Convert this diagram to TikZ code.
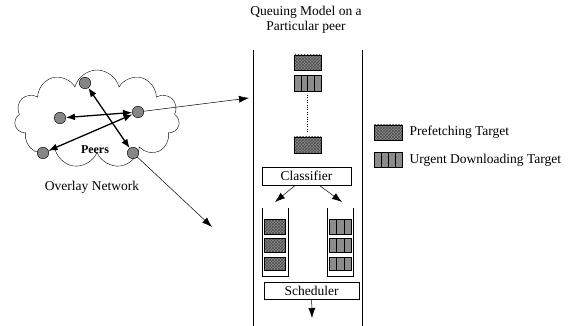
\documentclass[tikz,border=0pt]{standalone}
\usepackage{fontspec}
\setmainfont{Liberation Serif}
\usetikzlibrary{shapes.symbols,patterns,arrows.meta}

\tikzset{
  hatchbox/.style={draw,preaction={fill=gray!90},pattern=crosshatch,pattern color=black!70},
  stripebox/.style={draw,fill=gray!90},
  tagbox/.style={draw,inner sep=0pt,font=\fontsize{13.5}{15}\selectfont},
  peer/.style={circle,draw,fill=gray!95,minimum size=11.5pt,inner sep=0pt},
  link/.style={{Latex[length=9pt,width=7pt]}-{Latex[length=9pt,width=7pt]},line width=1.3pt},
  feed/.style={-{Latex[length=10pt,width=7pt]},line width=.5pt},
}

% stripe box: x1 y1 x2 y2 {inner x list}
\newcommand{\stripebx}[5]{%
  \draw[stripebox] (#1,#2) rectangle (#3,#4);
  \foreach \sx in {#5} \draw (\sx,#2) -- (\sx,#4);
}

\begin{document}
\begin{tikzpicture}[x=1pt,y=-1pt,font=\fontsize{13.5}{15.5}\selectfont]
  \useasboundingbox (0,0) rectangle (568,326);

  % overlay network
  \node[cloud,draw,cloud puffs=11,aspect=1.7,minimum width=165pt,minimum height=98pt] (cloud) at (97,119) {};

  \begin{scope}[every node/.style={peer}]
    \node (1) at (85,83)  {};
    \node (2) at (60,118) {};
    \node (3) at (138,112) {};
    \node (4) at (43,153) {};
    \node (5) at (133,153) {};
  \end{scope}

  \node[font=\fontsize{12}{14}\selectfont\bfseries] (peers) at (95,150) {Peers};
  \node (overlay) at (92,187) {Overlay Network};

  \path (1) edge[link] (5);
  \path (2) edge[link] (3);
  \path (4) edge[link] (3);

  \coordinate (q) at (249,98);
  \coordinate (r) at (212,227);
  \path (3) edge[feed] (q);
  \path (5) edge[feed] (r);

  % queuing model
  \node[align=center] (title) at (306,20) {Queuing Model on a\\Particular peer};
  \draw (253,50) -- (253,326);
  \draw (362,50) -- (362,326);

  \draw[hatchbox] (294,55) rectangle (321,70);
  \stripebx{294}{75}{321}{91}{300.75,307.5,314.25}
  \draw[dotted] (307,95) -- (307,132);
  \draw[hatchbox] (294,137) rectangle (321,153);

  \node[tagbox,minimum width=89pt,minimum height=18pt] (classifier) at (306.5,176) {Classifier};
  \coordinate (lq) at (275,202);
  \coordinate (uq) at (342,202);
  \path (classifier) edge[feed] (lq);
  \path (classifier) edge[feed] (uq);

  \draw (262,208) -- (262,276) -- (288,276) -- (288,208);
  \draw (327,208) -- (327,276) -- (353,276) -- (353,208);
  \foreach \ya/\yb in {219/234,238/252,257/270} {
    \draw[hatchbox] (264,\ya) rectangle (285,\yb);
    \stripebx{329}{\ya}{351}{\yb}{336.3,343.7}
  }

  \node[tagbox,minimum width=95pt,minimum height=17pt] (scheduler) at (311.5,290.5) {Scheduler};
  \coordinate (out) at (312,318);
  \path (scheduler) edge[feed] (out);

  % legend
  \draw[hatchbox] (374,125) rectangle (402,140);
  \node[anchor=west] (pref) at (406,132) {Prefetching Target};
  \stripebx{374}{152}{402}{167}{381,388,395}
  \node[anchor=west] (urg) at (406,160) {Urgent Downloading Target};
\end{tikzpicture}
\end{document}
